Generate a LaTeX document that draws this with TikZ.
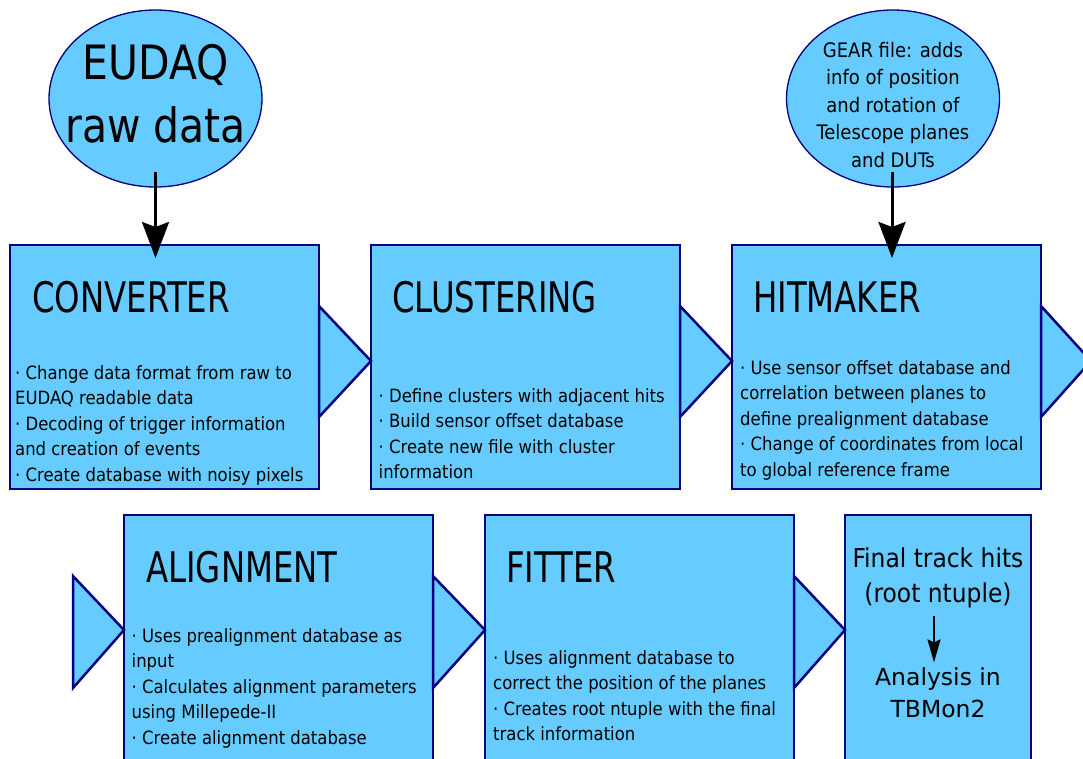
\documentclass[tikz,border=0pt]{standalone}
\usepackage{graphicx}
\usepackage{fontspec}
\setmainfont{DejaVu Sans}
\newfontfamily\condfont{DejaVu Sans Condensed}
\usetikzlibrary{shapes.geometric,arrows.meta,calc}
\definecolor{boxfill}{RGB}{102,204,255}
\definecolor{boxline}{RGB}{0,0,128}
% tall stage headings
\newcommand{\stagehead}[1]{\scalebox{1}[1.17]{#1}}

\begin{document}
\begin{tikzpicture}[x=1pt,y=-1pt,
  stage/.style={rectangle,draw=boxline,line width=2.5pt,fill=boxfill,
    minimum width=309pt,minimum height=244pt,inner sep=0pt,outer sep=0pt,anchor=north west},
  source/.style={ellipse,draw=boxline,line width=1.3pt,fill=boxfill,
    minimum width=213pt,minimum height=177pt,inner sep=0pt,outer sep=0pt},
  flow/.style={draw=boxline,line width=2.5pt,fill=boxfill},
  stagetitle/.style={anchor=base west,inner sep=0pt,font=\condfont\fontsize{36}{43}\selectfont},
  stagebody/.style={anchor=base west,inner sep=0pt,font=\condfont\fontsize{18.3}{25.5}\selectfont},
  feed/.style={line width=3pt,-{Stealth[length=36pt,width=27pt,inset=5pt]}},
]
\useasboundingbox (0,0) rectangle (1083,758);
\clip (0,0) rectangle (1083,758);

% input sources
\node[source] (eudaq) at (155.5,98.5) {};
\node[anchor=center,inner sep=0pt,font=\condfont\fontsize{45.5}{63}\selectfont] (eudaqtxt) at (eudaq.center)
  {\begin{tabular}{@{}c@{}}\scalebox{1}[1.04]{EUDAQ}\\\scalebox{1}[1.04]{raw data}\end{tabular}};
\node[source] (gear) at (893,98.5) {};
\node[anchor=base,inner sep=0pt,font=\condfont\fontsize{20}{27.5}\selectfont] (geartxt) at ($(gear.center)+(0,-41.5)$)
  {\begin{tabular}[t]{@{}c@{}}GEAR file: adds\\info of position\\and rotation of\\Telescope planes\\and DUTs\end{tabular}};

% processing stages
\node[stage] (conv)  at (10,245)  {};
\node[stage] (clus)  at (371,245) {};
\node[stage] (hit)   at (732,245) {};
\node[stage,minimum height=250pt] (align) at (124,515) {};
\node[stage,minimum height=250pt] (fit)   at (485,515) {};
\node[stage,minimum height=250pt,minimum width=186pt] (final) at (845,515) {};

% flow triangles between stages
\draw[flow] ($(conv.north east)+(0,61)$) -- ($(clus.north west)+(0,116)$) -- ($(conv.north east)+(0,172)$) -- cycle;
\draw[flow] ($(clus.north east)+(0,61)$) -- ($(hit.north west)+(0,116)$) -- ($(clus.north east)+(0,172)$) -- cycle;
\draw[flow] ($(hit.north east)+(0,61)$) -- ($(hit.north east)+(50,116)$) -- ($(hit.north east)+(0,172)$) -- cycle;
\draw[flow] ($(align.north west)+(-51,61)$) -- ($(align.north west)+(0,115)$) -- ($(align.north west)+(-51,173)$) -- cycle;
\draw[flow] ($(align.north east)+(0,61)$) -- ($(fit.north west)+(0,115)$) -- ($(align.north east)+(0,173)$) -- cycle;
\draw[flow] ($(fit.north east)+(0,61)$) -- ($(final.north west)+(0,115)$) -- ($(fit.north east)+(0,173)$) -- cycle;

% stage titles
\node[stagetitle] (convT)  at ($(conv.north west)+(22,67)$)  {\stagehead{CONVERTER}};
\node[stagetitle] (clusT)  at ($(clus.north west)+(21,67)$)  {\stagehead{CLUSTERING}};
\node[stagetitle] (hitT)   at ($(hit.north west)+(21,67)$)   {\stagehead{HITMAKER}};
\node[stagetitle] (alignT) at ($(align.north west)+(22,67)$) {\stagehead{ALIGNMENT}};
\node[stagetitle] (fitT)   at ($(fit.north west)+(21,67)$)   {\stagehead{FITTER}};

% stage descriptions
\node[stagebody] (convB) at ($(conv.north west)+(5,134)$) {\begin{tabular}[t]{@{}l@{}}
· Change data format from raw to\\
EUDAQ readable data\\
· Decoding of trigger information\\
and creation of events\\
· Create database with noisy pixels\end{tabular}};
\node[stagebody] (clusB) at ($(clus.north west)+(7.5,157)$) {\begin{tabular}[t]{@{}l@{}}
· Define clusters with adjacent hits\\
· Build sensor offset database\\
· Create new file with cluster\\
information\end{tabular}};
\node[stagebody] (hitB) at ($(hit.north west)+(8,129)$) {\begin{tabular}[t]{@{}l@{}}
· Use sensor offset database and\\
correlation between planes to\\
define prealignment database\\
· Change of coordinates from local\\
to global reference frame\end{tabular}};
\node[stagebody] (alignB) at ($(align.north west)+(7.5,127)$) {\begin{tabular}[t]{@{}l@{}}
· Uses prealignment database as\\
input\\
· Calculates alignment parameters\\
using Millepede-II\\
· Create alignment database\end{tabular}};
\node[stagebody] (fitB) at ($(fit.north west)+(8,149)$) {\begin{tabular}[t]{@{}l@{}}
· Uses alignment database to\\
correct the position of the planes\\
· Creates root ntuple with the final\\
track information\end{tabular}};

% final output
\node[anchor=base,inner sep=0pt,font=\condfont\fontsize{26}{35}\selectfont] (ftop) at ($(final.north)+(0,52)$)
  {\begin{tabular}[t]{@{}c@{}}Final track hits\\(root ntuple)\end{tabular}};
\node[anchor=base,inner sep=0pt,font=\fontsize{23.5}{32}\selectfont] (fbot) at ($(final.north)+(0,170)$)
  {\begin{tabular}[t]{@{}c@{}}Analysis in\\TBMon2\end{tabular}};
\draw[line width=2pt,-{Stealth[length=23pt,width=13pt,inset=3pt]},shorten <=3.5pt]
  ([xshift=-4pt]ftop.south) -- ([xshift=-4pt]fbot.north);

% inputs feeding the stages
\draw[feed] ($(eudaq.center)+(0,73.5)$) -- ($(eudaq.center |- conv.north)+(0,13)$);
\draw[feed] ($(gear.center)+(-1,73.5)$) -- ($(gear.center |- hit.north)+(-1,13)$);
\end{tikzpicture}
\end{document}
